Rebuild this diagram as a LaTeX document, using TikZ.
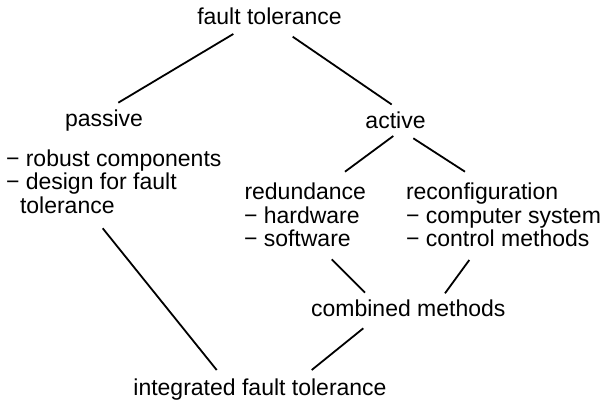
\documentclass[tikz,border=0pt]{standalone}
\usepackage{fontspec}
\setmainfont{Liberation Sans}
\begin{document}
\begin{tikzpicture}[x=1pt,y=-1pt,
  lbl/.style={inner sep=0pt,outer sep=0pt,anchor=base,font=\fontsize{23}{23.3}\selectfont},
  lbw/.style={lbl,anchor=base west},
  conn/.style={line width=1.8pt,black}]
\fill[white] (0,0) rectangle (607,403);
\useasboundingbox (0,0) rectangle (607,403);
% nodes
\node[lbl] (ft) at (269.5,25) {fault tolerance};
\node[lbl] (pas) at (104,126.5) {passive};
\node[lbl] (act) at (395.5,128.3) {active};
\node[lbw] (pl1) at (6,166.7) {− robust components};
\node[lbw] (pl2) at (6,190) {− design for fault};
\node[lbw] (pl3) at (20,213.3) {tolerance};
\node[lbw] (red1) at (244.5,200) {redundance};
\node[lbw] (red2) at (244,223.3) {− hardware};
\node[lbw] (red3) at (244,246.7) {− software};
\node[lbw] (rec1) at (406,200) {reconfiguration};
\node[lbw] (rec2) at (406,223.3) {− computer system};
\node[lbw] (rec3) at (406,246.7) {− control methods};
\node[lbl] (comb) at (408.3,316.7) {combined methods};
\node[lbl] (integ) at (260,395) {integrated fault tolerance};
% connectors
\draw[conn] ([shift={(-36.2,9)}]ft.base) -- ([shift={(14.3,-23.8)}]pas.base);
\draw[conn] ([shift={(23.2,11.7)}]ft.base) -- ([shift={(-3.8,-23.8)}]act.base);
\draw[conn] ([shift={(-2.2,7.7)}]act.base) -- ([shift={(100.5,-28.3)}]red1.base west);
\draw[conn] ([shift={(17.8,10)}]act.base) -- ([shift={(59,-28.3)}]rec1.base west);
\draw[conn] ([shift={(82.7,15)}]pl3.base west) -- ([shift={(-43.3,-25)}]integ.base);
\draw[conn] ([shift={(87.7,12.6)}]red3.base west) -- ([shift={(-43.3,-24)}]comb.base);
\draw[conn] ([shift={(63.3,13.3)}]rec3.base west) -- ([shift={(36.7,-23.4)}]comb.base);
\draw[conn] ([shift={(-45,11.6)}]comb.base) -- ([shift={(51.7,-25)}]integ.base);
\end{tikzpicture}
\end{document}
